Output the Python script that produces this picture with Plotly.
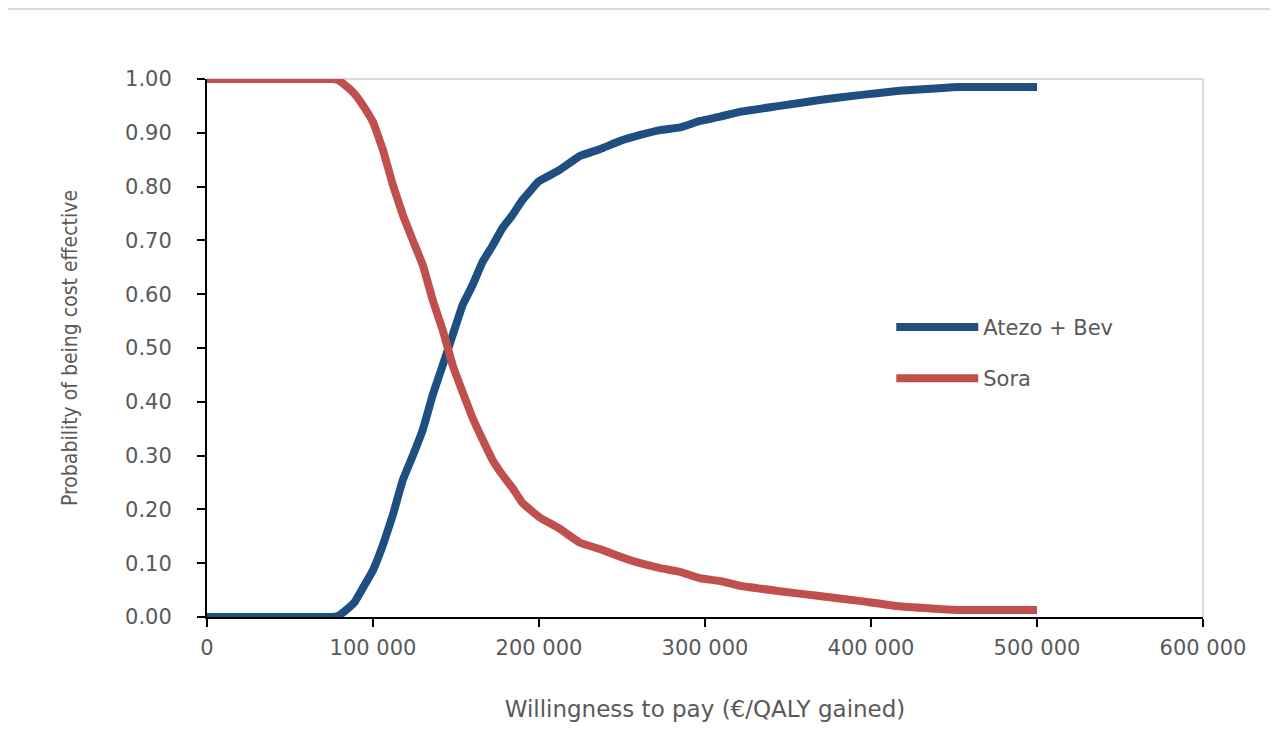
import plotly.graph_objects as go

# Willingness to pay (€/QALY gained)
wtp = [0, 20000, 40000, 60000, 75000, 79000, 83000, 89000, 95000, 100000, 106000, 112000,
       118000, 124000, 130000, 136000, 142000, 148000, 154000, 160000, 166000, 172000,
       178000, 184000, 190000, 200000, 212000, 224700, 237000, 249000, 261000, 273000,
       285000, 297000, 309000, 321000, 345000, 369000, 393000, 417000, 441000, 453000, 500000]

atezo_bev = [0, 0, 0, 0, 0, 0.002, 0.011, 0.028, 0.06, 0.087, 0.134, 0.19,
             0.255, 0.30, 0.348, 0.413, 0.468, 0.524, 0.58, 0.617, 0.66, 0.69,
             0.723, 0.747, 0.775, 0.81, 0.83, 0.857, 0.87, 0.885, 0.896, 0.905,
             0.91, 0.922, 0.93, 0.939, 0.95, 0.961, 0.97, 0.978, 0.983, 0.985, 0.985]

sora = [1, 1, 1, 1, 1, 0.998, 0.989, 0.972, 0.946, 0.92, 0.868, 0.803,
        0.747, 0.70, 0.654, 0.589, 0.533, 0.468, 0.418, 0.37, 0.33, 0.292,
        0.264, 0.24, 0.212, 0.186, 0.165, 0.138, 0.126, 0.112, 0.10, 0.091,
        0.084, 0.072, 0.067, 0.058, 0.048, 0.039, 0.03, 0.02, 0.015, 0.013, 0.013]

series_names = ["Atezo + Bev", "Sora"]
series_colors = ["#1F4E80", "#C0504D"]

x_ticks = [0, 100000, 200000, 300000, 400000, 500000, 600000]
y_ticks = [0, 0.1, 0.2, 0.3, 0.4, 0.5, 0.6, 0.7, 0.8, 0.9, 1.0]

GRAY = "#595959"
FONT = "DejaVu Sans"

fig = go.Figure()
for name, vals, col, grp in zip(series_names, [atezo_bev, sora], series_colors, ["a", "b"]):
    fig.add_trace(go.Scatter(x=wtp, y=vals, mode="lines", name=name, legendgroup=grp,
                             line=dict(color=col, width=8, shape="spline", smoothing=0.3),
                             cliponaxis=True))

fig.update_layout(
    width=1278, height=748,
    margin=dict(l=199, r=83, t=71, b=139),
    paper_bgcolor="white", plot_bgcolor="white",
    separators=". ",
    font=dict(family=FONT, color=GRAY, size=21),
    showlegend=True,
    legend=dict(x=0.687, y=0.491, xanchor="left", yanchor="middle",
                font=dict(family=FONT, size=21, color=GRAY),
                traceorder="grouped", tracegroupgap=21, itemwidth=82,
                bgcolor="rgba(0,0,0,0)"),
    xaxis=dict(range=[0, 600000], tickvals=x_ticks, tickformat=",d",
               showgrid=False, zeroline=False, showline=True, linecolor="black", linewidth=2,
               ticks="outside", ticklen=8, tickwidth=2, tickcolor="black",
               ticklabelstandoff=3,
               tickfont=dict(family=FONT, size=21, color=GRAY),
               title=dict(text="Willingness to pay (€/QALY gained)", standoff=42,
                          font=dict(family=FONT, size=23, color=GRAY))),
    yaxis=dict(range=[0, 1.0], tickvals=y_ticks, tickformat=".2f",
               showgrid=False, zeroline=False, showline=True, linecolor="black", linewidth=2,
               ticks="outside", ticklen=8, tickwidth=2, tickcolor="black",
               ticklabelstandoff=21,
               tickfont=dict(family=FONT, size=21, color=GRAY),
               title=dict(text="Probability of being cost effective", standoff=42,
                          font=dict(family="DejaVu Sans Condensed, DejaVu Sans", size=21, color=GRAY))),
)

# light plot-area border (top and right) and page rule at the top
fig.add_shape(type="line", xref="paper", yref="paper", x0=0, x1=1, y0=1, y1=1,
              line=dict(color="#D9D9D9", width=2), layer="below")
fig.add_shape(type="line", xref="paper", yref="paper", x0=1, x1=1, y0=0, y1=1,
              line=dict(color="#D9D9D9", width=2), layer="below")
fig.add_shape(type="line", xref="paper", yref="paper", x0=-0.205, x1=1.1, y0=1.1301, y1=1.1301,
              line=dict(color="#D9D9D9", width=2))

fig.write_html("out.html")
